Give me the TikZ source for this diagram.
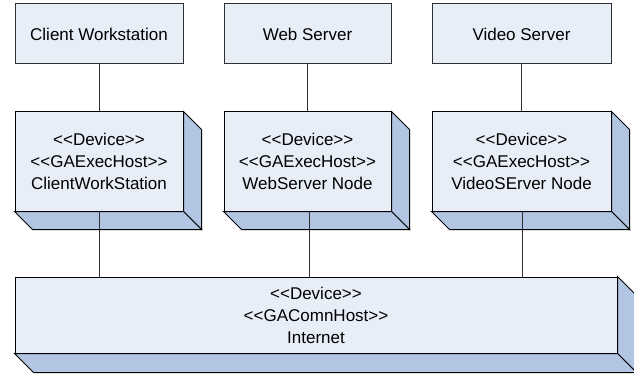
\documentclass[tikz,border=0pt]{standalone}
\usepackage{fontspec}
\setmainfont{Liberation Sans}[Ligatures=TeXOff]
\definecolor{frontc}{HTML}{E8EEF8}
\definecolor{sidec}{HTML}{B2C6E3}
\definecolor{linec}{HTML}{303030}
\tikzset{
  plainbox/.style={draw=linec, fill=frontc, line width=1pt, inner sep=0pt,
    align=center, font=\fontsize{17}{22}\selectfont},
  devbox/.style={draw=black, fill=frontc, line width=1pt, inner sep=0pt,
    align=center, font=\fontsize{17}{22}\selectfont},
  sideface/.style={draw=black, fill=sidec, line width=1pt, line join=miter},
  conn/.style={draw=linec, line width=1pt}
}
\newcommand{\extrude}[2]{%
  \path[sideface] (#1.north east) -- ++(#2,#2) -- ([shift={(#2,#2)}]#1.south east) -- (#1.south east) -- cycle;
  \path[sideface] (#1.south west) -- (#1.south east) -- ++(#2,#2) -- ([shift={(#2,#2)}]#1.south west) -- cycle;
}
\begin{document}
\begin{tikzpicture}[x=1pt,y=-1pt]
\useasboundingbox (0,0) rectangle (634,374);
% top boxes
\node[plainbox, minimum width=168pt, minimum height=60pt] (cw) at (99,34) {Client Workstation};
\node[plainbox, minimum width=167pt, minimum height=60pt] (ws) at (307.5,34) {Web Server};
\node[plainbox, minimum width=179pt, minimum height=60pt] (vs) at (521.5,34) {Video Server};
% device boxes
\node[devbox, minimum width=168pt, minimum height=99pt] (cwd) at (99,161.5) {<<Device>>\\<<GAExecHost>>\\ClientWorkStation};
\node[devbox, minimum width=167pt, minimum height=99pt] (wsd) at (307.5,161.5) {<<Device>>\\<<GAExecHost>>\\WebServer Node};
\node[devbox, minimum width=179pt, minimum height=99pt] (vsd) at (521.5,161.5) {<<Device>>\\<<GAExecHost>>\\VideoSErver Node};
\extrude{cwd}{18}
\extrude{wsd}{18}
\extrude{vsd}{18}
% internet
\node[devbox, minimum width=602pt, minimum height=76pt] (inet) at (316,315) {<<Device>>\\<<GAComnHost>>\\Internet};
\extrude{inet}{19}
% connectors
\draw[conn] (cw.south) -- (cwd.north);
\draw[conn] (ws.south) -- (wsd.north);
\draw[conn] (vs.south) -- (vsd.north);
\draw[conn] (cwd.south) -- (cwd.south |- inet.north);
\draw[conn] ([xshift=2pt]wsd.south) -- ([xshift=2pt]wsd.south |- inet.north);
\draw[conn] ([xshift=1pt]vsd.south) -- ([xshift=1pt]vsd.south |- inet.north);
\end{tikzpicture}
\end{document}
